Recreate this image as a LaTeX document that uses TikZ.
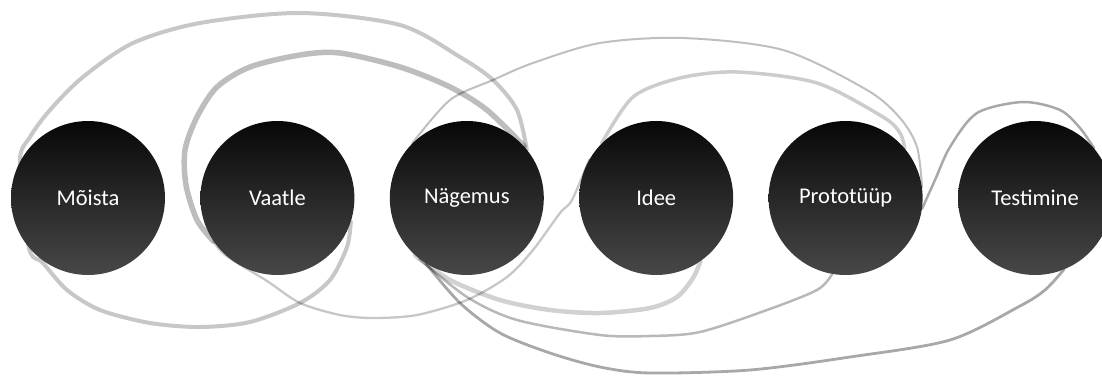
\documentclass[tikz,border=0pt]{standalone}
\usepackage{fontspec}
\setmainfont{Carlito}
\usetikzlibrary{positioning}
\pgfdeclarelayer{back}
\pgfsetlayers{back,main}
\newcommand{\stagefont}{\fontsize{22.5}{27}\selectfont}
\tikzset{
  stage/.style    = {circle, minimum size=154pt, inner sep=0pt, top color=black!97,
                     bottom color=black!72, text=white, font=\stagefont},
  loopline/.style = {draw=black, line cap=round, opacity=0.22, line width=4pt},
  darkline/.style = {loopline, opacity=0.34, line width=2.5pt},
}

\begin{document}
\begin{tikzpicture}[x=1pt, y=-1pt]
  \useasboundingbox (0,0) rectangle (1102,379);

  \node[stage] (moi) at (88,198) {Mõista};
  \node[stage, right=35pt of moi] (vaa) {Vaatle};
  \node[stage, right=35pt of vaa] (nag) {Nägemus};
  \node[stage, right=35pt of nag] (idee) {Idee};
  \node[stage, right=35pt of idee] (pro) {Prototüüp};
  \node[stage, right=35pt of pro] (tes) {Testimine};

  \begin{pgfonlayer}{back}
    \fill[white] (0,0) rectangle (1102,379);
    % left loops
    \draw[loopline] plot[smooth] coordinates {(nag.39) (517,110) (493,80) (460,57)
      (400,25) (300,13) (200,23) (133,43) (83,77) (50,110) (30,137) (moi.152)
      (moi.220) (43,263) (67,290) (100,310) (150,323) (200,327) (250,322) (300,303)
      (330,280) (347,247) (vaa.-18)};
    \draw[loopline, line width=5.5pt, opacity=0.26] plot[smooth] coordinates {(nag.42)
      (487,110) (450,87) (400,67) (340,53) (300,55) (250,67) (217,87) (197,117)
      (185,150) (186,185) (197,220) (vaa.214)};
    \draw[loopline, line width=2.3pt] plot[smooth] coordinates {(vaa.214) (vaa.228)
      (267,281) (300,303) (340,315) (373,318) (417,315) (467,300) (507,277) (533,250)
      (560,213) (572,200) (idee.150)};
    % right loops
    \draw[loopline, line width=3.5pt, opacity=0.2] plot[smooth] coordinates {(idee.135)
      (633,97) (680,78) (737,72) (817,83) (883,117) (900,133) (pro.40)};
    \draw[loopline, line width=2pt, opacity=0.25] plot[smooth] coordinates {(nag.135)
      (450,100) (493,80) (533,63) (600,43) (683,38) (783,50) (867,90) (900,118)
      (917,147) (pro.8)};
    \draw[darkline] plot[smooth] coordinates {(pro.-8) (935,180) (950,147) (977,113)
      (1023,102) (1060,110) (1080,128) (tes.40)};
    % lower loops
    \draw[loopline, line width=4.5pt, opacity=0.18] plot[smooth] coordinates {(nag.228)
      (450,280) (500,300) (550,310) (600,313) (650,308) (677,297) (693,278) (idee.-55)};
    \draw[loopline, line width=2.5pt, opacity=0.28] plot[smooth] coordinates {(nag.232)
      (467,297) (517,320) (600,335) (650,336) (700,332) (767,310) (817,290) (pro.-100)};
    \draw[darkline, line width=2.8pt] plot[smooth] coordinates {(nag.238) (460,303)
      (500,333) (550,353) (600,367) (650,373) (750,370) (850,357) (950,340) (1020,306)
      (1045,290) (tes.-68)};
  \end{pgfonlayer}
\end{tikzpicture}
\end{document}
